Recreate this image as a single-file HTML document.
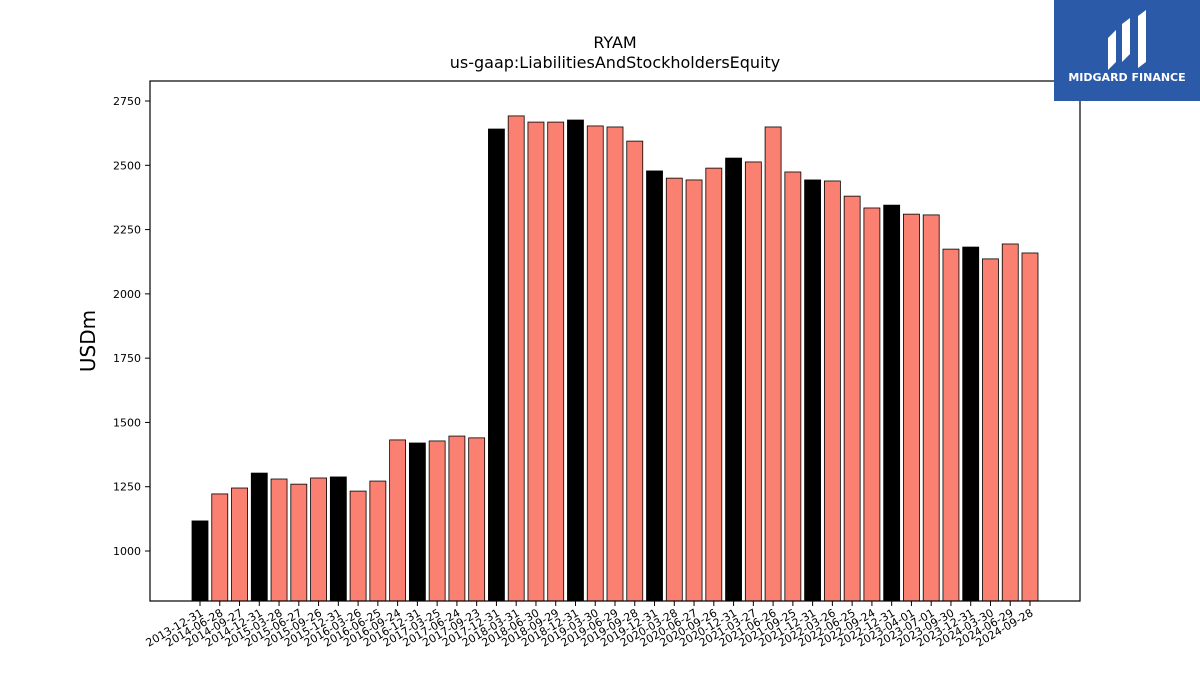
<!DOCTYPE html>
<html><head><meta charset="utf-8"><style>
body{margin:0;background:#fff;font-family:"DejaVu Sans","Liberation Sans",sans-serif}
svg text{font-family:"DejaVu Sans","Liberation Sans",sans-serif}
</style></head><body>
<svg id="chart" width="1200" height="675" xmlns="http://www.w3.org/2000/svg">
<rect width="1200" height="675" fill="#fff"/>
<text x="615" y="48" text-anchor="middle" font-size="16">RYAM</text>
<text x="615" y="68" text-anchor="middle" font-size="16">us-gaap:LiabilitiesAndStockholdersEquity</text>
<text transform="translate(95,341) rotate(-90)" text-anchor="middle" font-size="20">USDm</text>
<g id="bars"></g><g id="yticks"></g><g id="xticks"></g>
<rect x="150" y="81" width="930" height="520" fill="none" stroke="#000" stroke-width="1.2"/>
<g>
<rect x="1054" y="0" width="146" height="101" fill="#2b5aa8"/>
<path d="M1108 70 V38 L1116 30 V62 Z M1122 62 V24 L1130 18 V54 Z M1138 68 V16 L1146 10 V62 Z" fill="#fff"/>
<text x="1127" y="81" text-anchor="middle" font-size="11" font-weight="bold" fill="#fff">MIDGARD FINANCE</text>
</g>
</svg>
<script>
const categories=["2013-12-31","2014-06-28","2014-09-27","2014-12-31","2015-03-28","2015-06-27","2015-09-26","2015-12-31","2016-03-26","2016-06-25","2016-09-24","2016-12-31","2017-03-25","2017-06-24","2017-09-23","2017-12-31","2018-03-31","2018-06-30","2018-09-29","2018-12-31","2019-03-30","2019-06-29","2019-09-28","2019-12-31","2020-03-28","2020-06-27","2020-09-26","2020-12-31","2021-03-27","2021-06-26","2021-09-25","2021-12-31","2022-03-26","2022-06-25","2022-09-24","2022-12-31","2023-04-01","2023-07-01","2023-09-30","2023-12-31","2024-03-30","2024-06-29","2024-09-28"];
const values=[1117,1222,1245,1303,1280,1260,1284,1288,1233,1272,1432,1420,1428,1447,1440,2641,2692,2668,2668,2676,2653,2649,2594,2478,2450,2443,2489,2528,2513,2649,2474,2443,2439,2380,2334,2345,2310,2307,2174,2182,2136,2194,2159];
const yTicks=[1000,1250,1500,1750,2000,2250,2500,2750];
const NS="http://www.w3.org/2000/svg";
const yMin=805.6,yMax=2827.8,plotTop=81,plotBot=601;
function yPos(v){return plotBot-(v-yMin)/(yMax-yMin)*(plotBot-plotTop);}
function xPos(i){return 200+i*(1030-200)/(categories.length-1);}
const bars=document.getElementById('bars'),yt=document.getElementById('yticks'),xt=document.getElementById('xticks');
values.forEach((v,i)=>{
 const r=document.createElementNS(NS,'rect');
 
 
 r.setAttribute('x',xPos(i)-8);r.setAttribute('y',yPos(v));r.setAttribute('width',16);r.setAttribute('height',plotBot-yPos(v));
 r.setAttribute('fill',categories[i].endsWith('12-31')?'#000':'#fa8072');
 r.setAttribute('stroke','#000');r.setAttribute('stroke-width','0.8');
 bars.appendChild(r);
 const t=document.createElementNS(NS,'line');
 
 
 t.setAttribute('x1',xPos(i));t.setAttribute('x2',xPos(i));t.setAttribute('y1',plotBot);t.setAttribute('y2',plotBot+5);t.setAttribute('stroke','#000');
 xt.appendChild(t);
 const l=document.createElementNS(NS,'text');
 
 
 l.setAttribute('transform','translate('+(xPos(i)+4)+','+(plotBot+14)+') rotate(-30)');
 l.setAttribute('text-anchor','end');l.setAttribute('font-size','11');
 l.textContent=categories[i];xt.appendChild(l);
});
yTicks.forEach(v=>{
 const t=document.createElementNS(NS,'line');
 
 
 t.setAttribute('x1',145);t.setAttribute('x2',150);t.setAttribute('y1',yPos(v));t.setAttribute('y2',yPos(v));t.setAttribute('stroke','#000');
 yt.appendChild(t);
 const l=document.createElementNS(NS,'text');
 
 
 l.setAttribute('x',141);l.setAttribute('y',yPos(v)+4);l.setAttribute('text-anchor','end');l.setAttribute('font-size','11');
 l.textContent=v;yt.appendChild(l);
});
</script>
</body></html>
